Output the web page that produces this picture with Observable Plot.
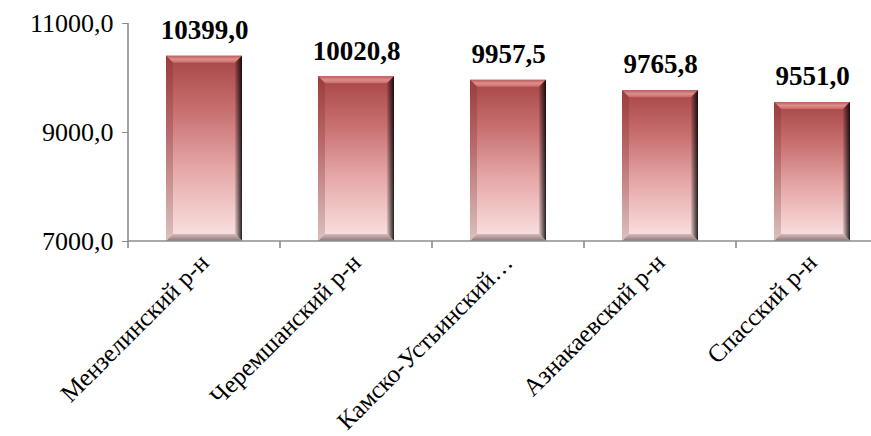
<!DOCTYPE html>
<html>
<head>
<meta charset="utf-8">
<script src="https://cdn.jsdelivr.net/npm/d3@7"></script>
<script src="https://cdn.jsdelivr.net/npm/@observablehq/plot@0.6"></script>
<style>
  html, body { margin: 0; padding: 0; background: white; overflow: hidden; }
  #chart svg { display: block; }
  #chart svg text { font-family: "Liberation Serif", "Times New Roman", serif !important; }
</style>
</head>
<body>
<div id="chart"></div>
<script>
const categories = ["Мензелинский р-н", "Черемшанский р-н", "Камско-Устьинский…", "Азнакаевский р-н", "Спасский р-н"];
const values = [10399.0, 10020.8, 9957.5, 9765.8, 9551.0];
const yTicks = [7000, 9000, 11000];

const data = categories.map((name, i) => ({name, value: values[i]}));
const fmt = v => v.toFixed(1).replace(".", ",");
const AXIS = "#8c8c8c";
const FONT = "Liberation Serif";
const SVGNS = "http://www.w3.org/2000/svg";

function poly(points, fill) {
  const p = document.createElementNS(SVGNS, "polygon");
  p.setAttribute("points", points.map(d => d.join(",")).join(" "));
  p.setAttribute("fill", fill);
  return p;
}

function bevelRender(index, scales, vals, dims, ctx, next) {
  const g = next(index, scales, vals, dims, ctx);
  const defs = document.createElementNS(SVGNS, "defs");
  defs.innerHTML = `
    <linearGradient id="bodyGrad" x1="0" y1="0" x2="0" y2="1">
      <stop offset="0" stop-color="#a84446"/>
      <stop offset="0.3" stop-color="#c87070"/>
      <stop offset="0.6" stop-color="#e5a6a6"/>
      <stop offset="1" stop-color="#fbe3e3"/>
    </linearGradient>
    <linearGradient id="topGrad" x1="0" y1="0" x2="0" y2="1">
      <stop offset="0" stop-color="#bc5e5e"/>
      <stop offset="0.5" stop-color="#de8e8c"/>
      <stop offset="1" stop-color="#c66a6a"/>
    </linearGradient>
    <linearGradient id="leftGrad" x1="0" y1="0" x2="0" y2="1">
      <stop offset="0" stop-color="#9a3c3e"/>
      <stop offset="0.4" stop-color="#b86868"/>
      <stop offset="1" stop-color="#dcc0c0"/>
    </linearGradient>
    <linearGradient id="rightShade" x1="0" y1="0" x2="1" y2="0">
      <stop offset="0" stop-color="#000" stop-opacity="0.1"/>
      <stop offset="1" stop-color="#000" stop-opacity="0.85"/>
    </linearGradient>
    <linearGradient id="botGrad" x1="0" y1="0" x2="0" y2="1">
      <stop offset="0" stop-color="#d4bcbc"/>
      <stop offset="1" stop-color="#8e7676"/>
    </linearGradient>`;
  g.insertBefore(defs, g.firstChild);
  const rects = Array.from(g.querySelectorAll("rect"));
  for (const r of rects) {
    const x = +r.getAttribute("x"), y = +r.getAttribute("y");
    const w = +r.getAttribute("width"), h = +r.getAttribute("height");
    const b = 7;
    g.appendChild(poly([[x, y], [x + w, y], [x + w - b, y + b], [x + b, y + b]], "url(#topGrad)"));
    g.appendChild(poly([[x, y], [x + b, y + b], [x + b, y + h - b], [x, y + h]], "url(#leftGrad)"));
    g.appendChild(poly([[x + w, y], [x + w, y + h], [x + w - b, y + h - b], [x + w - b, y + b]], "url(#bodyGrad)"));
    g.appendChild(poly([[x + w, y], [x + w, y + h], [x + w - b, y + h - b], [x + w - b, y + b]], "url(#rightShade)"));
    g.appendChild(poly([[x, y + h], [x + b, y + h - b], [x + w - b, y + h - b], [x + w, y + h]], "url(#botGrad)"));
  }
  return g;
}

// axis lines and category-boundary ticks, positioned with the plot's own scales
function axisLines(index, scales, vals, dims) {
  const g = d3.create("svg:g").attr("stroke", AXIS).attr("stroke-width", 1.6);
  const x0 = dims.marginLeft;
  const yb = scales.y(7000), yt = scales.y(11000);
  g.append("line").attr("x1", x0).attr("x2", x0).attr("y1", yt).attr("y2", yb);
  g.append("line").attr("x1", x0).attr("x2", dims.width - dims.marginRight).attr("y1", yb).attr("y2", yb);
  const step = scales.x(categories[1]) - scales.x(categories[0]);
  const bw = step / 2;
  const off = (step - bw) / 2;
  const bounds = categories.map(c => scales.x(c) - off);
  for (const bx of bounds) {
    g.append("line").attr("x1", bx).attr("x2", bx).attr("y1", yb).attr("y2", yb + 7);
  }
  return g.node();
}

const plot = Plot.plot({
  width: 871,
  height: 436,
  marginLeft: 128,
  marginRight: -17,
  marginTop: 23,
  marginBottom: 195,
  style: {fontFamily: FONT, fontSize: "26px", color: "black", background: "white"},
  x: {domain: categories, paddingInner: 0.5, paddingOuter: 0.25, label: null},
  y: {domain: [7000, 11000], label: null},
  marks: [
    Plot.barY(data, {x: "name", y1: 7000, y2: "value", fill: "url(#bodyGrad)", render: bevelRender}),
    Plot.axisY({ticks: yTicks, tickFormat: fmt, tickSize: 6, tickPadding: 9, stroke: AXIS, fill: "black", fontSize: 26, fontFamily: FONT, label: null}),
    Plot.axisX({tickSize: 0, tickRotate: -45, textAnchor: "end", lineAnchor: "middle", tickPadding: 0, dx: 0, dy: 17, fontSize: 25, fontFamily: FONT, fill: "black", label: null}),
    axisLines,
    Plot.text(data, {x: "name", y: "value", text: d => fmt(d.value), lineAnchor: "middle", dy: -26, fontWeight: "bold", fontSize: 27, fontFamily: FONT, fill: "black"})
  ]
});
document.getElementById("chart").appendChild(plot);
</script>
</body>
</html>
